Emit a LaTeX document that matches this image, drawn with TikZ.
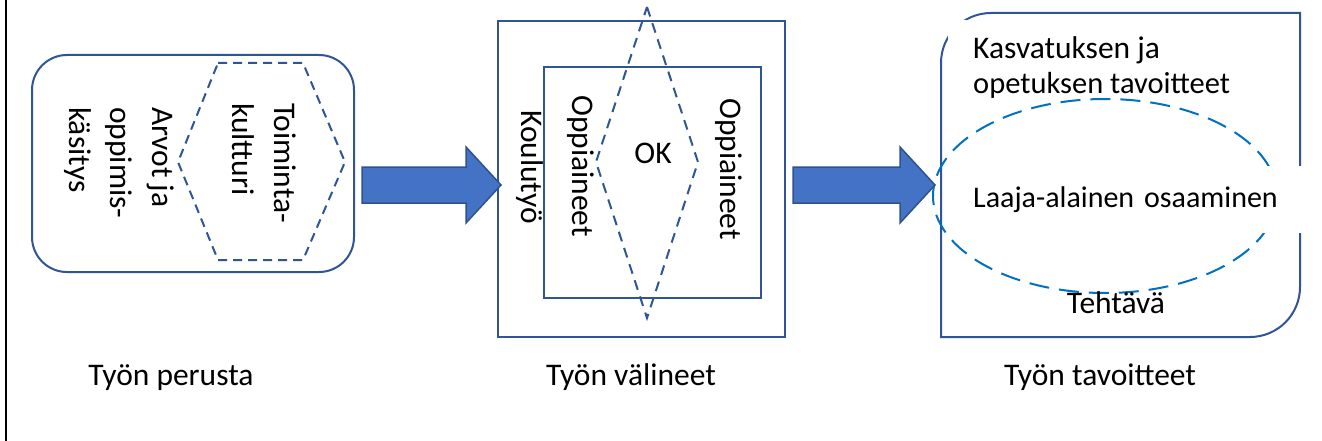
\documentclass[tikz,border=0pt]{standalone}
\usepackage{fontspec}
\setmainfont{Carlito}
\usetikzlibrary{calc}
\definecolor{boxblue}{HTML}{2F5597}
\definecolor{arrfill}{HTML}{4472C4}
\definecolor{arrdraw}{HTML}{2F528F}
\definecolor{ellblue}{HTML}{0070C0}
\newcommand\blockarr[2]{%
  \path[blockarrow] let \p1=(#1), \p2=(#2) in
    (\x1,\y1+18pt) -- (\x2-35pt,\y1+18pt) -- (\x2-35pt,\y1+38pt) -- (\x2,\y2)
    -- (\x2-35pt,\y1-38pt) -- (\x2-35pt,\y1-18pt) -- (\x1,\y1-18pt) -- cycle;}
\begin{document}
\begin{tikzpicture}[x=1pt,y=-1pt,
  box/.style={draw=boxblue, line width=2pt},
  dashhex/.style={draw=boxblue, line width=2pt, dash pattern=on 9pt off 6pt},
  rot/.style={rotate=-90, inner sep=0pt, anchor=base west, font=\fontsize{31.5}{36}\selectfont},
  lab/.style={inner sep=0pt, font=\fontsize{31.5}{36}\selectfont},
  blockarrow/.style={fill=arrfill, draw=arrdraw, line width=1.5pt, line join=miter}]
\useasboundingbox (0,0) rectangle (1322,441);
\fill[white] (0,0) rectangle (1322,441);
\draw[line width=2.5pt] (6,0) -- (6,441);

% left block
\node[box, rounded corners=35pt, minimum width=322pt, minimum height=217pt, inner sep=0pt] (lbox) at (193,163.5) {};
\draw[dashhex] (218,63) -- (303,63) -- (345,162) -- (303,260) -- (218,260) -- (178,162) -- cycle;
\node[rot] (toim1) at (274,103) {Toiminta-};
\node[rot] (toim2) at (232,103) {kultturi};
\node[rot] (arv1) at (152,107) {Arvot ja};
\node[rot] (arv2) at (110,107) {oppimis-};
\node[rot] (arv3) at (69,107) {käsitys};
\node[lab, anchor=base] (perusta) at (171,385) {Työn perusta};

% middle block
\node[box, minimum width=287pt, minimum height=316pt, inner sep=0pt] (outer) at (641.5,179) {};
\node[box, minimum width=217pt, minimum height=231pt, inner sep=0pt] (inner) at (652.5,182.5) {};
\draw[dashhex, dash pattern=on 10pt off 7pt] (647,7) -- (698,162) -- (647,318) -- (596,162) -- cycle;
\node[rot] (koulu) at (521,110) {Koulutyö};
\node[rot] (opp1) at (572,95) {Oppiaineet};
\node[rot] (opp2) at (720,98) {Oppiaineet};
\node[lab, anchor=base] (ok) at (653,163) {OK};
\node[lab, anchor=base] (valineet) at (631,385) {Työn välineet};

% right block
\draw[box] (941,337) -- (941,63) arc[start angle=180, end angle=90, radius=50pt]
  -- (1300,13) -- (1300,287) arc[start angle=0, end angle=-90, radius=50pt] -- cycle;
\coordinate (rwest) at (941,185);
\node[lab, fill=white, anchor=base west, inner xsep=25pt, inner ysep=0pt, text height=39pt, text depth=8pt] (kasv1) at (948,59) {Kasvatuksen ja};
\node[lab, anchor=base west, font=\fontsize{30.5}{36}\selectfont] (kasv2) at (973,94) {opetuksen tavoitteet};
\draw[draw=ellblue, line width=2pt, dash pattern=on 20pt off 10pt] (1105,196) ellipse [x radius=172pt, y radius=97pt];
\node[lab, fill=white, anchor=base west, inner xsep=13pt, inner ysep=0pt, text height=41pt, text depth=26pt, text width=324pt, align=left, font=\fontsize{30}{36}\selectfont] (laaja) at (960,207) {Laaja-alainen osaaminen};
\node[lab, anchor=base] (tehtava) at (1116,313) {Tehtävä};
\node[lab, anchor=base] (tavoitteet) at (1100,385) {Työn tavoitteet};

% arrows
\coordinate (a1s) at ($(lbox.east)+(7,21.5)$);
\coordinate (a1e) at ($(outer.west)+(4,6)$);
\coordinate (a2s) at ($(outer.east)+(7,6)$);
\coordinate (a2e) at ($(rwest)+(-6,0)$);
\blockarr{a1s}{a1e}
\blockarr{a2s}{a2e}
\end{tikzpicture}
\end{document}
